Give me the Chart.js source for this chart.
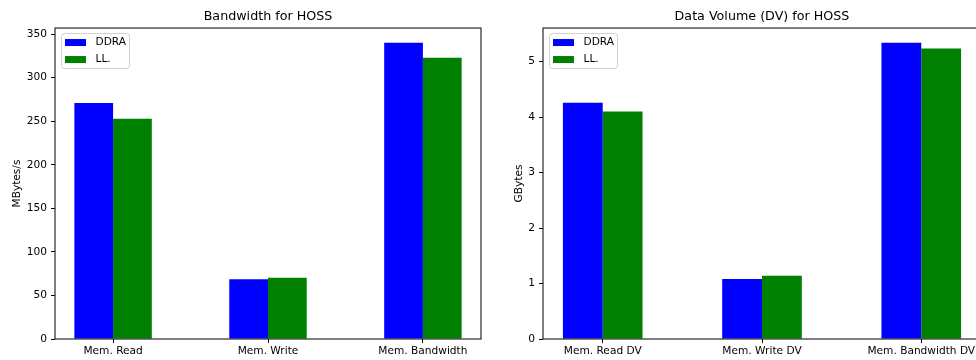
<!DOCTYPE html>
<html>
<head>
<meta charset="utf-8">
<script src="https://cdn.jsdelivr.net/npm/chart.js@4.4.0/dist/chart.umd.min.js"></script>
<style>
  html, body { margin: 0; padding: 0; background: #fff; }
  body { width: 976px; height: 360px; overflow: hidden; position: relative; }
  #bwChart { position: absolute; left: 0; top: 0; }
  #dvChart { position: absolute; left: 490px; top: 0; }
</style>
</head>
<body>
<canvas id="bwChart" width="490" height="360"></canvas>
<canvas id="dvChart" width="500" height="360"></canvas>
<script>
// series shared by both plots
var seriesNames = ["DDRA", "LL."];
var seriesColors = ["#0000ff", "#008000"];

// left: bandwidth
var bwCategories = ["Mem. Read", "Mem. Write", "Mem. Bandwidth"];
var bwDDRA = [271, 68.5, 340];
var bwLL = [253, 70.4, 323];
var bwTicks = [0, 50, 100, 150, 200, 250, 300, 350];

// right: data volume
var dvCategories = ["Mem. Read DV", "Mem. Write DV", "Mem. Bandwidth DV"];
var dvDDRA = [4.26, 1.08, 5.34];
var dvLL = [4.10, 1.14, 5.24];
var dvTicks = [0, 1, 2, 3, 4, 5];

Chart.defaults.font.family = "'DejaVu Sans', sans-serif";
Chart.defaults.font.size = 10.6;
Chart.defaults.color = '#000';

// axes box (all four spines), drawn over the bars like matplotlib
var framePlugin = {
  id: 'frame',
  afterDatasetsDraw: function(chart) {
    var a = chart.chartArea, ctx = chart.ctx;
    ctx.save();
    ctx.strokeStyle = '#000';
    ctx.lineWidth = 1;
    ctx.strokeRect(a.left, a.top, a.right - a.left, a.bottom - a.top);
    ctx.restore();
  }
};

// legend box in the upper left corner of the axes
var cornerLegend = {
  id: 'cornerLegend',
  afterDraw: function(chart) {
    var a = chart.chartArea, ctx = chart.ctx;
    var x = a.left + 6, y = a.top + 5;
    ctx.save();
    ctx.beginPath();
    ctx.roundRect(x + 0.5, y + 0.5, 68, 35, 3);
    ctx.fillStyle = 'rgba(255,255,255,0.8)';
    ctx.fill();
    ctx.strokeStyle = '#d0d0d0';
    ctx.lineWidth = 1;
    ctx.stroke();
    ctx.font = "10.6px 'DejaVu Sans'";
    ctx.textBaseline = 'middle';
    chart.data.datasets.forEach(function(ds, k) {
      var cy = y + 9.5 + k * 17;
      ctx.fillStyle = ds.backgroundColor;
      ctx.fillRect(x + 4, cy - 3.5, 21, 7);
      ctx.fillStyle = '#000';
      ctx.fillText(ds.label, x + 34.5, cy);
    });
    ctx.restore();
  }
};

function makeChart(id, title, yTitle, categories, series, yTicks, yWidth, yTitlePad) {
  var all = [].concat.apply([], series);
  return new Chart(document.getElementById(id), {
    type: 'bar',
    data: {
      datasets: series.map(function(vals, k) {
        return {
          label: seriesNames[k],
          data: vals.map(function(v, i) { return { x: i, y: v }; }),
          backgroundColor: seriesColors[k],
          borderWidth: 0,
          categoryPercentage: 0.5,
          barPercentage: 1.0
        };
      })
    },
    options: {
      responsive: false,
      animation: false,
      layout: { padding: { top: 0, left: 0, right: 9, bottom: 0 } },
      plugins: {
        legend: { display: false },
        tooltip: { enabled: false },
        title: {
          display: true,
          text: title,
          fullSize: false,
          color: '#000',
          font: { size: 12.7, weight: 'normal' },
          padding: { top: 9.5, bottom: 3.3 }
        }
      },
      scales: {
        x: {
          type: 'linear',
          min: -0.375,
          max: categories.length - 1 + 0.375,
          offset: false,
          afterBuildTicks: function(s) {
            s.ticks = categories.map(function(c, i) { return { value: i }; });
          },
          afterFit: function(s) { s.height = 21; },
          ticks: {
            autoSkip: false,
            maxRotation: 0,
            padding: 2,
            color: '#000',
            callback: function(v) { return categories[v]; }
          },
          grid: { display: true, drawOnChartArea: false, offset: false, color: '#000', tickLength: 4 },
          border: { display: false }
        },
        y: {
          min: 0,
          max: Math.max.apply(null, all) * 1.05,
          afterBuildTicks: function(s) {
            s.ticks = yTicks.map(function(v) { return { value: v }; });
          },
          afterFit: function(s) { s.width = yWidth; },
          ticks: { padding: 4, color: '#000' },
          grid: { display: true, drawOnChartArea: false, color: '#000', tickLength: 4 },
          border: { display: false },
          title: {
            display: true,
            text: yTitle,
            color: '#000',
            font: { size: 10.6 },
            padding: { top: yTitlePad, bottom: 0 }
          }
        }
      }
    },
    plugins: [framePlugin, cornerLegend]
  });
}

makeChart('bwChart', 'Bandwidth for HOSS', 'MBytes/s', bwCategories, [bwDDRA, bwLL], bwTicks, 55, 11);
makeChart('dvChart', 'Data Volume (DV) for HOSS', 'GBytes', dvCategories, [dvDDRA, dvLL], dvTicks, 53, 23);
</script>
</body>
</html>
